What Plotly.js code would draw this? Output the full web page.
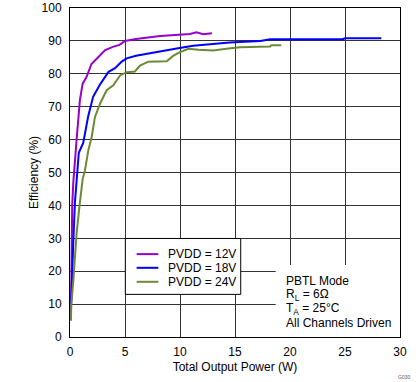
<!DOCTYPE html>
<html>
<head>
<meta charset="utf-8">
<script src="https://cdn.plot.ly/plotly-3.0.1.min.js"></script>
<style>html,body{margin:0;padding:0;background:#fff;}#chart{width:419px;height:382px;}</style>
</head>
<body>
<div id="chart"></div>
<script>
const seriesNames = ["PVDD = 12V", "PVDD = 18V", "PVDD = 24V"];
const power12 = [0.08,0.12,0.15,0.2,0.3,0.45,0.6,0.75,0.9,1.15,1.5,1.95,2.4,3.2,3.9,4.5,5,6,8.2,10,10.9,11.5,12.1,12.9];
const eff12   = [5,15,30,40,47,55,60,66,72,77,79,83,84.4,87.2,88.2,88.8,90,90.6,91.5,92,92.1,92.6,92,92.3];
const power18 = [0.1,0.15,0.3,0.45,0.6,0.8,1.2,1.65,2.1,2.7,3.5,4.1,4.7,5.15,6,7.9,9.7,11.2,14.5,17.3,18.2,24.8,25,28.3];
const eff18   = [10,17,29,41,48,56,59,67,73,76.6,80.6,81.7,83.7,84.7,85.5,86.7,87.7,88.5,89.5,90,90.5,90.5,90.8,90.8];
const power24 = [0.08,0.12,0.3,0.45,0.6,0.85,1.0,1.15,1.36,1.67,1.97,2.27,2.73,3.33,3.94,4.55,5.15,5.9,6.36,7.12,8.8,9.4,10,10.76,11.7,13,14.2,15.45,18.2,18.3,19.2];
const eff24   = [5,10,17,24,31.5,39.5,43,48,50.7,56.8,60.8,66.9,70.9,75,76.5,79.5,80.5,80.7,82.5,83.7,83.8,85.5,86.6,87.6,87.3,87.1,87.6,88.1,88.3,88.7,88.7];
const xTicks = [0,5,10,15,20,25,30];
const yTicks = [0,10,20,30,40,50,60,70,80,90,100];
const noteLines = ["PBTL Mode", "R<sub>L</sub> = 6Ω", "T<sub>A</sub> = 25°C", "All Channels Driven"];

const colors = ["#9900cc", "#0000ff", "#6b8a35"];
const xs = [power12, power18, power24];
const ys = [eff12, eff18, eff24];
const traces = seriesNames.map((n, i) => ({
  x: xs[i], y: ys[i], name: n, type: "scatter", mode: "lines",
  line: {color: colors[i], width: 2}, showlegend: false
}));

const font = {family: "Liberation Sans, Arial, sans-serif", size: 12, color: "#000"};
const annotations = noteLines.map((t, i) => ({
  xref: "x", yref: "y", x: 19.45, y: 0, xanchor: "left", yanchor: "middle",
  yshift: 56 - i * 14, text: t, showarrow: false, font: font
}));
annotations.push({xref: "paper", yref: "paper", x: 1.036, y: -0.121, xanchor: "right", yanchor: "middle",
  text: "G030", showarrow: false, font: {family: "Liberation Sans, Arial", size: 5, color: "#555"}});

// hand-drawn legend (tighter row spacing than Plotly's built-in legend), placed in axis units
const legRowY = [25.19, 21.03, 16.78];
const shapes = [
  {type: "rect", xref: "x", yref: "y", x0: 18.7, x1: 30, y0: 0, y1: 21.9,
    fillcolor: "#fff", line: {width: 0}, layer: "between"},
  {type: "rect", xref: "x", yref: "y", x0: 5.03, x1: 15.52, y0: 12.96, y1: 29.95,
    fillcolor: "#fff", line: {color: "#000", width: 1}, layer: "between"}
];
seriesNames.forEach((n, i) => {
  shapes.push({type: "line", xref: "x", yref: "y", x0: 6.06, x1: 8.03,
    y0: legRowY[i], y1: legRowY[i], line: {color: colors[i], width: 2}});
  annotations.push({xref: "x", yref: "y", x: 8.75, y: legRowY[i], xanchor: "left",
    yanchor: "middle", text: n, showarrow: false, font: font});
});

const layout = {
  width: 419, height: 382,
  margin: {l: 70, r: 19, t: 8, b: 45},
  paper_bgcolor: "#fff", plot_bgcolor: "#fff",
  font: font,
  showlegend: false,
  xaxis: {range: [0, 30], tickvals: xTicks, showgrid: true, gridcolor: "#333", gridwidth: 1,
    zeroline: false, showline: true, linecolor: "#000", linewidth: 1, mirror: true,
    ticks: "", ticklabelstandoff: 4,
    title: {text: "Total Output Power (W)", font: font, standoff: 4}},
  yaxis: {range: [0, 100], tickvals: yTicks, showgrid: true, gridcolor: "#333", gridwidth: 1,
    zeroline: false, showline: true, linecolor: "#000", linewidth: 1, mirror: true,
    ticks: "", ticklabelstandoff: 5,
    title: {text: "Efficiency (%)", font: font, standoff: 0}},
  shapes: shapes,
  annotations: annotations
};
Plotly.newPlot("chart", traces, layout, {displayModeBar: false, staticPlot: true});
</script>
</body>
</html>
